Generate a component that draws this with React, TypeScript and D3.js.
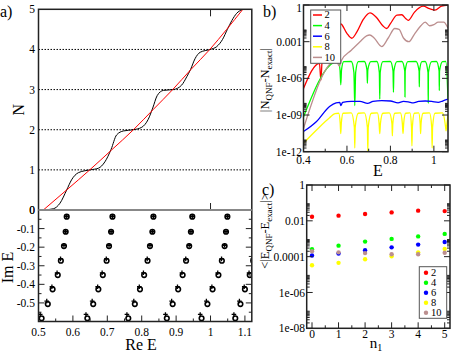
import React from 'react';
import * as d3 from 'd3';

const FONT = "'Liberation Serif', 'Times New Roman', 'DejaVu Serif', serif";

// ---- panel a (top): counting function, exact (black) and smooth (red)
const stairE = [0.514, 0.543, 0.5625, 0.582, 0.596, 0.616, 0.650, 0.674, 0.693, 0.711, 0.727, 0.747, 0.776, 0.800, 0.819, 0.832, 0.845, 0.863, 0.892, 0.916, 0.931, 0.942, 0.955, 0.970, 0.999, 1.018, 1.035, 1.049, 1.062, 1.076, 1.092];
const stairN = [0, 0.03, 0.17, 0.5, 0.75, 0.93, 1.0, 1.04, 1.2, 1.51, 1.87, 1.97, 2.0, 2.06, 2.26, 2.54, 2.85, 2.98, 3.0, 3.11, 3.32, 3.5, 3.77, 3.93, 4.0, 4.07, 4.25, 4.5, 4.72, 4.9, 4.99];
const weylE = [0.514, 0.582, 0.649, 0.713, 0.776, 0.833, 0.890, 0.943, 0.998, 1.047, 1.094];
const weylN = [0, 0.5, 1, 1.5, 2, 2.5, 3, 3.5, 4, 4.5, 5];
const nTicks = [0, 1, 2, 3, 4, 5];

// ---- panel a (bottom): resonances, one array per column n1
const exactIm = [-0.036, -0.117, -0.194, -0.273, -0.350, -0.427, -0.506, -0.583];
const qnfIm = [-0.036, -0.117, -0.190, -0.263, -0.338, -0.413, -0.490, -0.562];
const exactRe = [
  [0.582, 0.579, 0.574, 0.565, 0.556, 0.541, 0.527, 0.509],
  [0.715, 0.711, 0.705, 0.698, 0.687, 0.674, 0.659, 0.642],
  [0.834, 0.831, 0.824, 0.817, 0.807, 0.795, 0.780, 0.761],
  [0.947, 0.943, 0.938, 0.929, 0.919, 0.906, 0.890, 0.873],
  [1.049, 1.045, 1.041, 1.033, 1.023, 1.006, 0.991, 0.974],
  [1.150, 1.146, 1.140, 1.124, 1.114, 1.100, 1.087, 1.072],
];
const qnfRe = [
  [0.582, 0.579, 0.574, 0.564, 0.554, 0.539, 0.524, 0.505],
  [0.715, 0.711, 0.705, 0.697, 0.685, 0.672, 0.656, 0.638],
  [0.834, 0.831, 0.824, 0.816, 0.805, 0.793, 0.777, 0.757],
  [0.947, 0.943, 0.938, 0.928, 0.917, 0.904, 0.887, 0.869],
  [1.049, 1.045, 1.041, 1.032, 1.021, 1.004, 0.988, 0.970],
  [1.150, 1.146, 1.140, 1.123, 1.112, 1.098, 1.084, 1.068],
];
const reTicks = [0.5, 0.6, 0.7, 0.8, 0.9, 1, 1.1];
const imTicks = [0, -0.1, -0.2, -0.3, -0.4, -0.5];

// ---- panel b: |N_QNF - N_exact| vs E, by order
const orders = ['2', '4', '6', '8', '10'];
const colors = ['#ff0000', '#00ff00', '#0000ff', '#ffff00', '#bc8f8f'];
const diff2: [number, number][] = [[0.4, 1.5e-7], [0.4735, 1.7e-5], [0.48, 7e-7], [0.486, 3.2e-5], [0.538, 4.8e-3], [0.5715, 0.028], [0.599, 5e-3], [0.622, 1.9e-3], [0.645, 6e-3], [0.676, 0.07], [0.706, 0.23], [0.737, 0.09], [0.765, 0.02], [0.783, 0.012], [0.80, 0.03], [0.83, 0.15], [0.852, 0.16], [0.87, 0.08], [0.882, 0.055], [0.91, 0.25], [0.951, 0.8], [0.98, 0.5], [1.005, 0.38], [1.035, 0.8], [1.065, 1]];
const diff4: [number, number][] = [[0.4, 7e-10], [0.538, 1.9e-5], [0.560, 2.3e-5], [0.568, 5e-6], [0.5715, 3e-7], [0.575, 5e-6], [0.585, 2.3e-5], [0.62, 2.4e-5], [0.632, 3e-6], [0.636, 6e-9], [0.640, 3e-6], [0.652, 2.3e-5], [0.68, 2.4e-5], [0.692, 5e-6], [0.694, 4e-7], [0.696, 5e-6], [0.71, 2.3e-5], [0.738, 2.4e-5], [0.749, 3e-6], [0.751, 2e-8], [0.753, 3e-6], [0.765, 2.3e-5], [0.80, 2.4e-5], [0.812, 4e-6], [0.814, 7e-8], [0.816, 4e-6], [0.83, 2.3e-5], [0.853, 2.4e-5], [0.866, 4e-6], [0.867, 3e-8], [0.868, 4e-6], [0.88, 2.3e-5], [0.918, 2.4e-5], [0.932, 4e-6], [0.933, 2e-7], [0.934, 4e-6], [0.945, 2.3e-5], [0.96, 2.4e-5], [0.973, 3e-6], [0.974, 1e-8], [0.975, 3e-6], [0.99, 2.3e-5], [1.012, 2.4e-5], [1.024, 4e-6], [1.025, 1e-7], [1.026, 4e-6], [1.04, 2.3e-5], [1.055, 2.4e-5], [1.065, 2e-8]];
const diff6: [number, number][] = [[0.4, 4.5e-11], [0.46, 3e-10], [0.52, 5e-9], [0.55, 1e-8], [0.567, 1.1e-8], [0.5715, 6e-9], [0.58, 1.1e-8], [0.62, 1.3e-8], [0.66, 1.3e-8], [0.695, 9e-9], [0.72, 1.3e-8], [0.76, 1.5e-8], [0.80, 1.4e-8], [0.835, 1e-8], [0.86, 1.3e-8], [0.882, 1.2e-8], [0.905, 1e-8], [0.93, 1.3e-8], [0.96, 1.4e-8], [0.99, 1.3e-8], [1.02, 1.1e-8], [1.04, 1.4e-8], [1.065, 2e-8]];
const diff8: [number, number][] = [[0.4, 5e-12], [0.46, 6e-11], [0.52, 6e-10], [0.545, 1.3e-9], [0.562, 1.4e-9], [0.569, 2e-10], [0.5715, 3e-11], [0.574, 2e-10], [0.582, 1.4e-9], [0.62, 1.5e-9], [0.634, 1e-10], [0.636, 2e-12], [0.638, 1e-10], [0.652, 1.4e-9], [0.68, 1.5e-9], [0.694, 1e-10], [0.696, 1e-12], [0.698, 1e-10], [0.712, 1.4e-9], [0.74, 1.5e-9], [0.748, 2e-10], [0.751, 3e-11], [0.754, 2e-10], [0.765, 1.4e-9], [0.795, 1.5e-9], [0.807, 2e-10], [0.809, 2e-11], [0.811, 2e-10], [0.82, 1.4e-9], [0.846, 1.5e-9], [0.855, 2e-10], [0.858, 3e-11], [0.861, 2e-10], [0.87, 1.4e-9], [0.89, 1.5e-9], [0.897, 1e-10], [0.899, 3e-12], [0.901, 1e-10], [0.91, 1.4e-9], [0.93, 1.5e-9], [0.937, 2e-10], [0.939, 3e-11], [0.941, 2e-10], [0.95, 1.4e-9], [0.98, 1.5e-9], [0.99, 1e-10], [0.992, 2e-12], [0.994, 1e-10], [1.005, 1.4e-9], [1.04, 1.5e-9], [1.054, 1e-10], [1.056, 5e-11], [1.058, 1e-10], [1.065, 1e-9]];
const diff10: [number, number][] = [[0.4, 8e-11], [0.55, 3e-5], [0.565, 1e-5], [0.575, 3e-5], [0.62, 2e-4], [0.66, 1e-3], [0.69, 3e-3], [0.705, 3.5e-3], [0.725, 2e-3], [0.76, 4e-4], [0.79, 2e-3], [0.82, 1.2e-2], [0.84, 1e-2], [0.86, 2e-3], [0.885, 1e-3], [0.91, 4e-3], [0.94, 2e-2], [0.96, 4e-2], [0.98, 2e-2], [1.0, 2.5e-2], [1.02, 4e-2], [1.045, 4e-2], [1.065, 1.3e-2]];
const diffSeries = [diff2, diff4, diff6, diff8, diff10];
const bXTicks = [0.4, 0.6, 0.8, 1];
const bYTicks = [1e-12, 1e-9, 1e-6, 1e-3, 1];
const bYLabels = ['1e-12', '1e-09', '1e-06', '0.001', '1'];

// ---- panel c: <|E_QNF - E_exact|> vs n1
const n1 = [0, 1, 2, 3, 4, 5];
const err2 = [0.017, 0.0195, 0.024, 0.0295, 0.037, 0.035];
const err4 = [2.6e-4, 4.1e-4, 6.9e-4, 9.8e-4, 1.35e-3, 1.86e-3];
const err6 = [1.15e-4, 1.48e-4, 2.3e-4, 3.3e-4, 4.7e-4, 6.6e-4];
const err8 = [3.3e-5, 4.5e-5, 7.1e-5, 1.05e-4, 1.74e-4, 2.7e-4];
const err10 = [2e-4, 1.74e-4, 1.58e-4, 1.35e-4, 1.35e-4, 1.66e-4];
const errSeries = [err2, err4, err6, err8, err10];
const cXTicks = [0, 1, 2, 3, 4, 5];
const cYTicks = [1e-8, 1e-6, 1e-4, 1e-2, 1];
const cYLabels = ['1e-08', '1e-06', '0.0001', '0.01', '1'];
const minorMult = [2, 3, 4, 5, 6, 7, 8, 9];

const FRAME = '#222';
const TICK_FS = 11.5;

export default function App() {
  // panel a
  const ax = d3.scaleLinear().domain([0.5, 1.12]).range([38.5, 251.8]);
  const ayTop = d3.scaleLinear().domain([0, 5]).range([210, 9.3]);
  const ayBot = d3.scaleLinear().domain([-0.6, 0]).range([321.5, 210]);
  const stairLine = d3.line<number>().x((_, i) => ax(stairE[i])).y(d => ayTop(d)).curve(d3.curveMonotoneX);
  const weylLine = d3.line<number>().x((_, i) => ax(weylE[i])).y(d => ayTop(d)).curve(d3.curveMonotoneX);
  const reMinor = [0.55, 0.65, 0.75, 0.85, 0.95, 1.05];
  const imMinor = [-0.05, -0.15, -0.25, -0.35, -0.45, -0.55];

  // panel b
  const bx = d3.scaleLinear().domain([0.4, 1.065]).range([303.5, 448]);
  const by = d3.scaleLog().domain([1e-12, 1]).range([151.7, 5]);
  const bLine = d3.line<[number, number]>().x(d => bx(d[0])).y(d => by(d[1])).curve(d3.curveMonotoneX);
  const bMinorX = [0.5, 0.7, 0.9];
  const bMinorY = bYTicks.slice(0, -1).flatMap(t => minorMult.map(m => t * m));

  // panel c
  const cx = d3.scaleLinear().domain([-0.2, 5.2]).range([306.7, 450]);
  const cy = d3.scaleLog().domain([1e-8, 1]).range([328.3, 185]);
  const cMinorX = [0.5, 1.5, 2.5, 3.5, 4.5];
  const cMinorY = cYTicks.slice(0, -1).flatMap(t => minorMult.map(m => t * m));

  const [bx0, bx1] = bx.range();
  const [by1, by0] = by.range();
  const [cx0, cx1] = cx.range();
  const [cy1, cy0] = cy.range();
  const [ax0, ax1] = ax.range();

  return (
    <svg width={452} height={352} style={{ position: 'absolute', left: 0, top: 0, background: '#fff', fontFamily: FONT }}>
      <defs>
        <clipPath id="clipA"><rect x={ax0} y={ayTop(5)} width={ax1 - ax0} height={ayBot(-0.6) - ayTop(5)} /></clipPath>
        <clipPath id="clipB"><rect x={bx0} y={by0} width={bx1 - bx0} height={by1 - by0} /></clipPath>
        <clipPath id="clipC"><rect x={cx0} y={cy0} width={cx1 - cx0} height={cy1 - cy0} /></clipPath>
      </defs>
      <rect width={452} height={352} fill="#fff" />

      {/* ===== panel a top ===== */}
      {nTicks.slice(1, -1).map(n => (
        <line key={'g' + n} x1={ax0} x2={ax1} y1={ayTop(n)} y2={ayTop(n)} stroke="#000" strokeWidth={1} strokeDasharray="1.5,1.5" />
      ))}
      <g clipPath="url(#clipA)">
        <path d={stairLine(stairN) || ''} fill="none" stroke="#000" strokeWidth={1} />
        <path d={weylLine(weylN) || ''} fill="none" stroke="#ff0000" strokeWidth={1} />
      </g>
      {[ayTop(5), ayTop(0)].map((y, i) => (
        <line key={'tt' + i} x1={ax(1)} x2={ax(1)} y1={y} y2={i === 0 ? y + 7 : y - 7} stroke={FRAME} strokeWidth={1} />
      ))}
      {nTicks.map(n => (
        <text key={'nl' + n} x={35} y={ayTop(n)} dy="0.35em" textAnchor="end" fontSize={TICK_FS}>{n}</text>
      ))}
      <text transform={`translate(24,${ayTop(2.5)}) rotate(-90)`} textAnchor="middle" fontSize={16}>N</text>
      <text x={0} y={17} fontSize={16}>a)</text>

      {/* ===== panel a bottom ===== */}
      <g clipPath="url(#clipA)">
        {exactRe.map((col, c) => col.map((re, r) => (
          <circle key={`e${c}-${r}`} cx={ax(re)} cy={ayBot(exactIm[r])} r={2.3} fill="none" stroke="#000" strokeWidth={1.6} />
        )))}
        {qnfRe.map((col, c) => col.map((re, r) => (
          <path key={`q${c}-${r}`} d={`M${ax(re) - 2.3},${ayBot(qnfIm[r])}h4.6M${ax(re)},${ayBot(qnfIm[r]) - 2.3}v4.6`} stroke="#000" strokeWidth={1.3} />
        )))}
      </g>
      {reTicks.map(t => (
        <g key={'rt' + t}>
          <line x1={ax(t)} x2={ax(t)} y1={ayBot(-0.6)} y2={ayBot(-0.6) - 6} stroke={FRAME} />
          <text x={ax(t)} y={336} textAnchor="middle" fontSize={TICK_FS}>{t}</text>
        </g>
      ))}
      {reMinor.map(t => (
        <line key={'rm' + t} x1={ax(t)} x2={ax(t)} y1={ayBot(-0.6)} y2={ayBot(-0.6) - 3} stroke={FRAME} />
      ))}
      {imTicks.map(t => (
        <g key={'it' + t}>
          <line x1={ax0} x2={ax0 + 6} y1={ayBot(t)} y2={ayBot(t)} stroke={FRAME} />
          <line x1={ax1} x2={ax1 - 6} y1={ayBot(t)} y2={ayBot(t)} stroke={FRAME} />
          <text x={35} y={ayBot(t)} dy="0.35em" textAnchor="end" fontSize={TICK_FS}>{t}</text>
        </g>
      ))}
      {imMinor.map(t => (
        <g key={'im' + t}>
          <line x1={ax0} x2={ax0 + 3} y1={ayBot(t)} y2={ayBot(t)} stroke={FRAME} />
          <line x1={ax1} x2={ax1 - 3} y1={ayBot(t)} y2={ayBot(t)} stroke={FRAME} />
        </g>
      ))}
      <text x={141} y={350} textAnchor="middle" fontSize={16}>Re E</text>
      <text transform={`translate(13,${ayBot(-0.31)}) rotate(-90)`} textAnchor="middle" fontSize={16}>Im E</text>
      <rect x={ax0} y={ayTop(5)} width={ax1 - ax0} height={ayBot(-0.6) - ayTop(5)} fill="none" stroke={FRAME} strokeWidth={1.5} />
      <line x1={ax0} x2={ax1} y1={ayTop(0)} y2={ayTop(0)} stroke="#888" strokeWidth={2} />

      {/* ===== panel b ===== */}
      <g clipPath="url(#clipB)">
        {diffSeries.map((s, i) => (
          <path key={'b' + i} d={bLine(s) || ''} fill="none" stroke={colors[i]} strokeWidth={1.3} />
        ))}
      </g>
      {bXTicks.map(t => (
        <g key={'bxt' + t}>
          <line x1={bx(t)} x2={bx(t)} y1={by1} y2={by1 - 6} stroke={FRAME} />
          <line x1={bx(t)} x2={bx(t)} y1={by0} y2={by0 + 6} stroke={FRAME} />
          <text x={bx(t)} y={163.5} textAnchor="middle" fontSize={TICK_FS}>{t}</text>
        </g>
      ))}
      {bMinorX.map(t => (
        <g key={'bxm' + t}>
          <line x1={bx(t)} x2={bx(t)} y1={by1} y2={by1 - 3} stroke={FRAME} />
          <line x1={bx(t)} x2={bx(t)} y1={by0} y2={by0 + 3} stroke={FRAME} />
        </g>
      ))}
      {bYTicks.map((t, i) => (
        <g key={'byt' + i}>
          <line x1={bx0} x2={bx0 + 6} y1={by(t)} y2={by(t)} stroke={FRAME} />
          <line x1={bx1} x2={bx1 - 6} y1={by(t)} y2={by(t)} stroke={FRAME} />
          <text x={302} y={by(t)} dy={i === bYTicks.length - 1 ? '0.6em' : '0.35em'} textAnchor="end" fontSize={TICK_FS}>{bYLabels[i]}</text>
        </g>
      ))}
      {bMinorY.map((t, i) => (
        <g key={'bym' + i}>
          <line x1={bx0} x2={bx0 + 3} y1={by(t)} y2={by(t)} stroke={FRAME} />
          <line x1={bx1} x2={bx1 - 3} y1={by(t)} y2={by(t)} stroke={FRAME} />
        </g>
      ))}
      <rect x={bx0} y={by0} width={bx1 - bx0} height={by1 - by0} fill="none" stroke={FRAME} strokeWidth={1.5} />
      <text x={378} y={176} textAnchor="middle" fontSize={16}>E</text>
      <text transform={`translate(269,80) rotate(-90)`} textAnchor="middle" fontSize={12.5}>
        |N<tspan dy={3} fontSize={9}>QNF</tspan><tspan dy={-3}>-N</tspan><tspan dy={3} fontSize={9}>exact</tspan><tspan dy={-3}>|</tspan>
      </text>
      <text x={263} y={17} fontSize={16}>b)</text>
      <g>
        <rect x={310.7} y={10} width={30} height={53.3} fill="#fff" stroke="#555" strokeWidth={1} />
        {orders.map((o, i) => (
          <g key={'bl' + o}>
            <line x1={313} x2={322} y1={15 + i * 10.6} y2={15 + i * 10.6} stroke={colors[i]} strokeWidth={1.5} />
            <text x={324.5} y={15 + i * 10.6} dy="0.33em" fontSize={10.5}>{o}</text>
          </g>
        ))}
      </g>

      {/* ===== panel c ===== */}
      <g clipPath="url(#clipC)">
        {errSeries.map((s, i) => s.map((v, j) => (
          <circle key={`c${i}-${j}`} cx={cx(n1[j])} cy={cy(v)} r={2.2} fill={colors[i]} />
        )))}
      </g>
      {cXTicks.map(t => (
        <g key={'cxt' + t}>
          <line x1={cx(t)} x2={cx(t)} y1={cy1} y2={cy1 - 6} stroke={FRAME} />
          <line x1={cx(t)} x2={cx(t)} y1={cy0} y2={cy0 + 6} stroke={FRAME} />
          <text x={cx(t)} y={337.5} textAnchor="middle" fontSize={TICK_FS}>{t}</text>
        </g>
      ))}
      {cMinorX.map(t => (
        <g key={'cxm' + t}>
          <line x1={cx(t)} x2={cx(t)} y1={cy1} y2={cy1 - 3} stroke={FRAME} />
          <line x1={cx(t)} x2={cx(t)} y1={cy0} y2={cy0 + 3} stroke={FRAME} />
        </g>
      ))}
      {cYTicks.map((t, i) => (
        <g key={'cyt' + i}>
          <line x1={cx0} x2={cx0 + 6} y1={cy(t)} y2={cy(t)} stroke={FRAME} />
          <line x1={cx1} x2={cx1 - 6} y1={cy(t)} y2={cy(t)} stroke={FRAME} />
          <text x={305} y={cy(t)} dy="0.35em" textAnchor="end" fontSize={TICK_FS}>{cYLabels[i]}</text>
        </g>
      ))}
      {cMinorY.map((t, i) => (
        <g key={'cym' + i}>
          <line x1={cx0} x2={cx0 + 3} y1={cy(t)} y2={cy(t)} stroke={FRAME} />
          <line x1={cx1} x2={cx1 - 3} y1={cy(t)} y2={cy(t)} stroke={FRAME} />
        </g>
      ))}
      <rect x={cx0} y={cy0} width={cx1 - cx0} height={cy1 - cy0} fill="none" stroke={FRAME} strokeWidth={1.5} />
      <text x={376} y={348} textAnchor="middle" fontSize={15}>n<tspan dy={3} fontSize={10}>1</tspan></text>
      <text transform={`translate(269,231) rotate(-90)`} textAnchor="middle" fontSize={12.5}>
        {'<|E'}<tspan dy={3} fontSize={9}>QNF</tspan><tspan dy={-3}>-E</tspan><tspan dy={3} fontSize={9}>exact</tspan><tspan dy={-3}>{'|>'}</tspan>
      </text>
      <text x={262} y={195} fontSize={16}>c)</text>
      <g>
        <rect x={419.3} y={266.7} width={27.4} height={51.6} fill="#fff" stroke="#555" strokeWidth={1} />
        {orders.map((o, i) => (
          <g key={'cl' + o}>
            <circle cx={426} cy={272.7 + i * 10} r={2.2} fill={colors[i]} />
            <text x={431} y={272.7 + i * 10} dy="0.33em" fontSize={10.5}>{o}</text>
          </g>
        ))}
      </g>
    </svg>
  );
}
